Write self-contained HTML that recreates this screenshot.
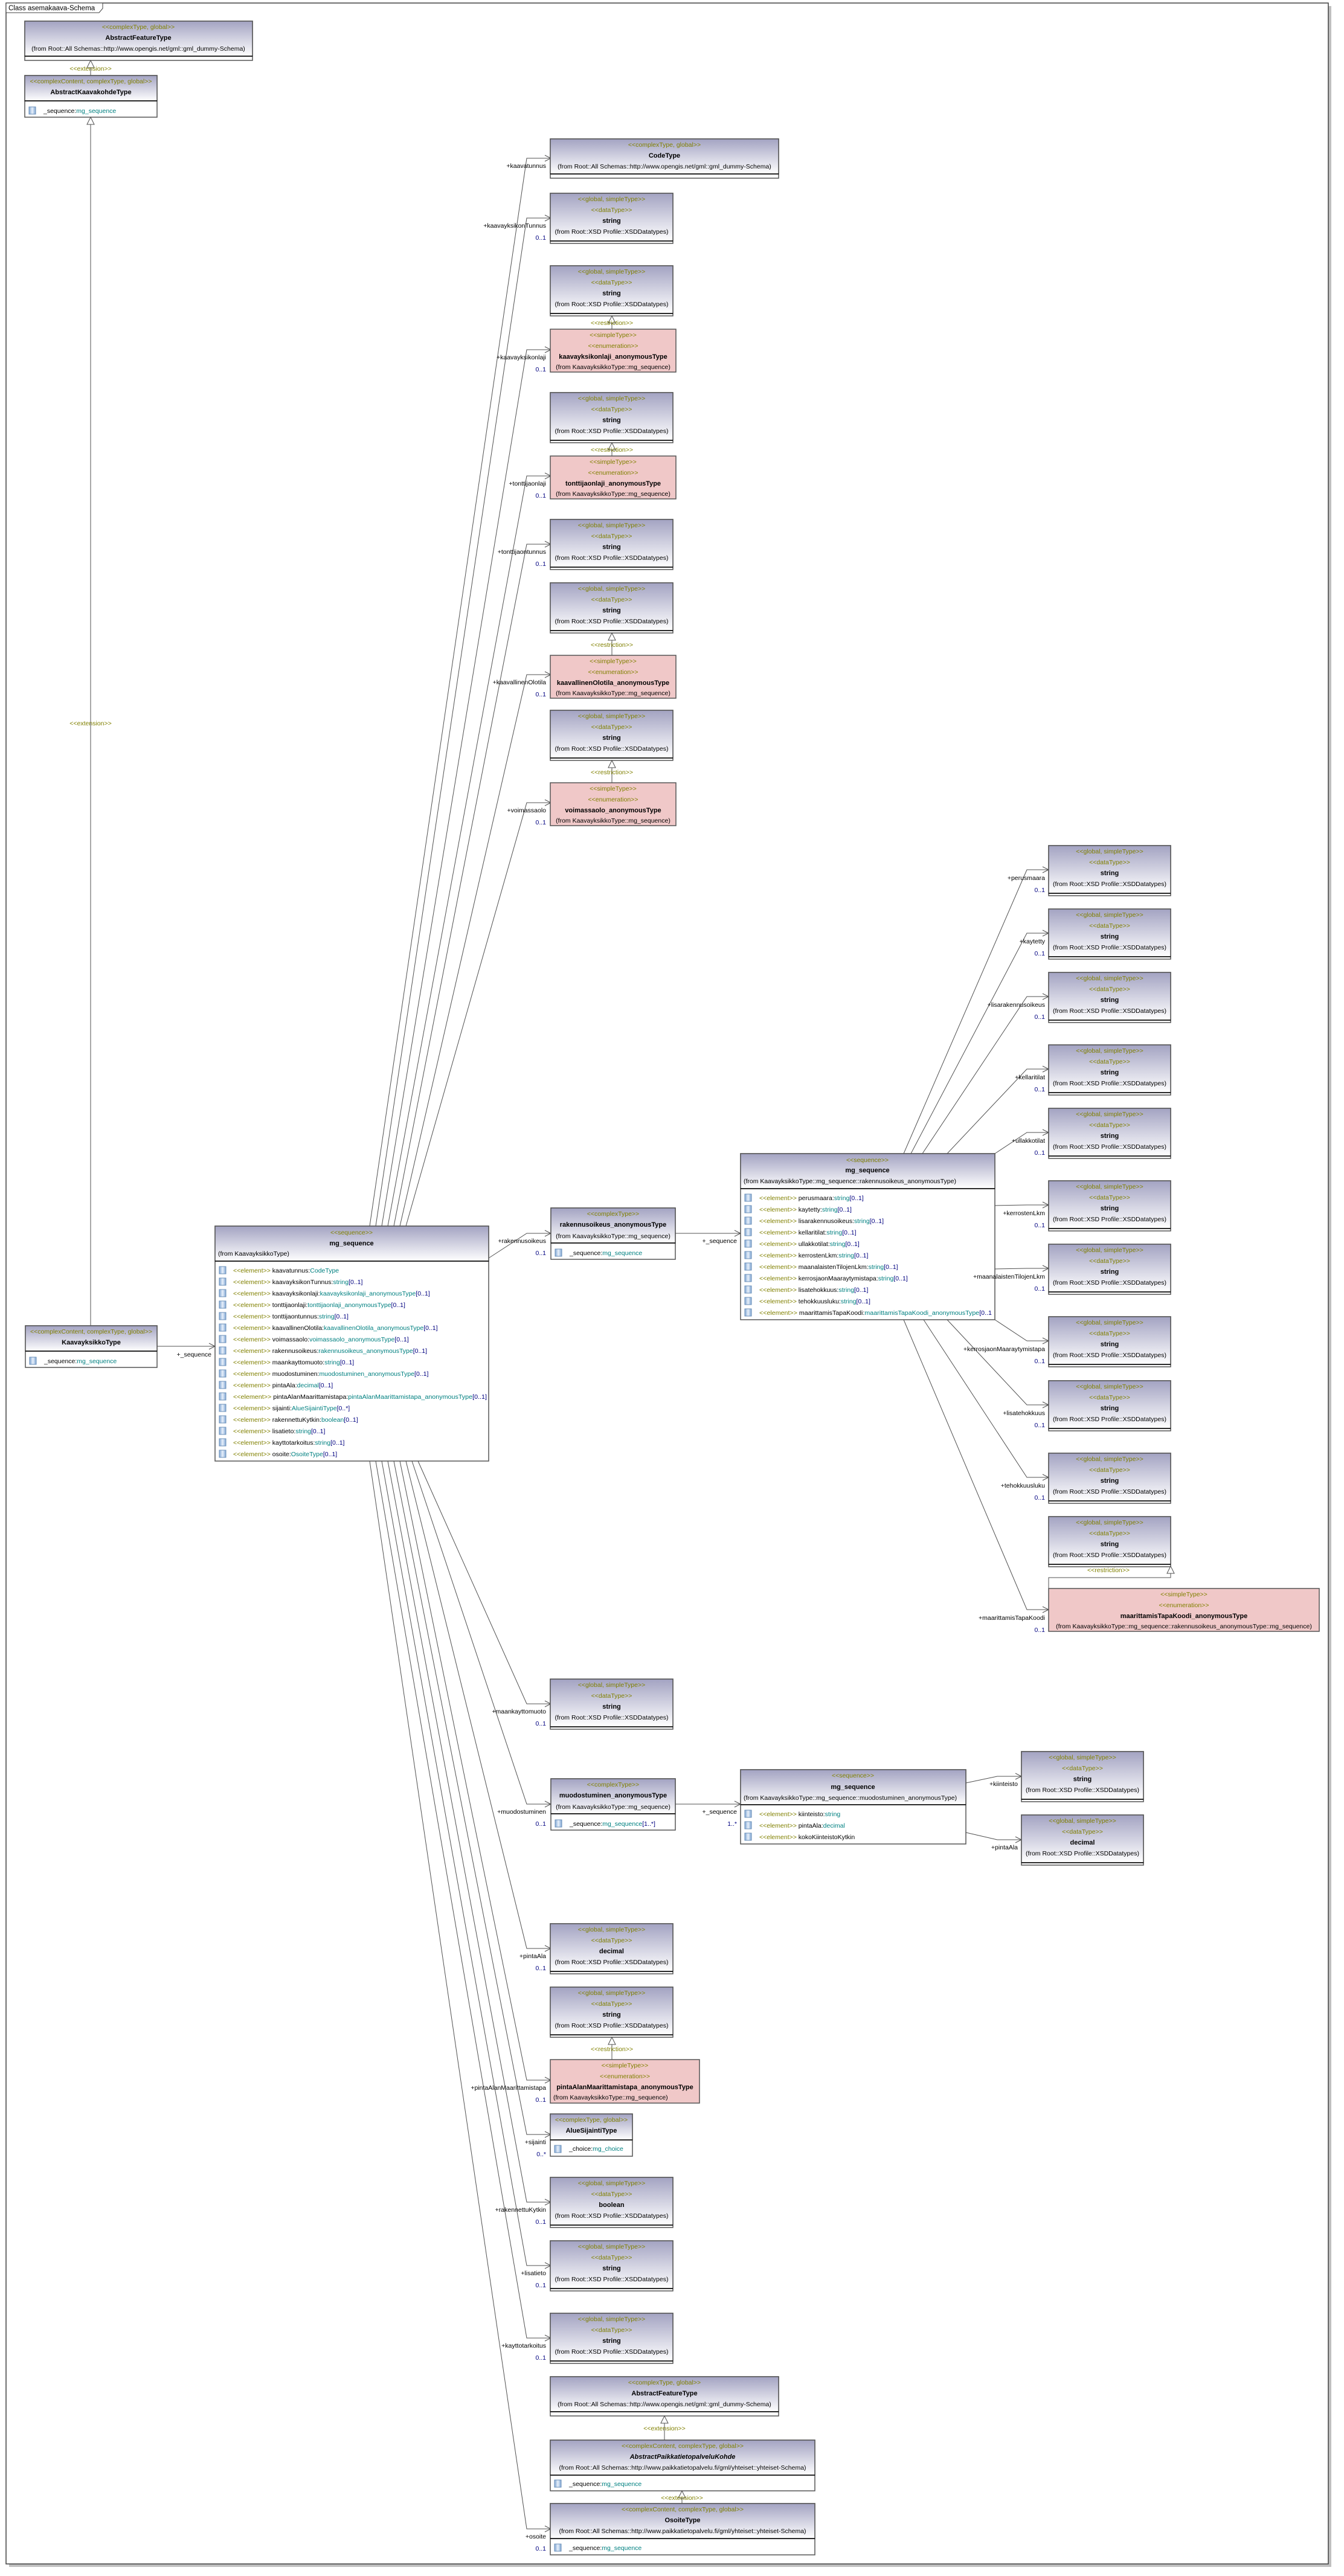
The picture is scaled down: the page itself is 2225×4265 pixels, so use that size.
<!DOCTYPE html>
<html><head><meta charset="utf-8"><style>
html,body{margin:0;padding:0;background:#fff;}
svg{display:block;}
text{font-family:"Liberation Sans",Arial,sans-serif;font-size:10.5px;fill:#000;}
.s{fill:#808000;text-anchor:middle;}
.n{font-weight:bold;text-anchor:middle;font-size:11px;}
.c{text-anchor:middle;}
.r{text-anchor:end;}
.b{fill:#fff;stroke:#555;stroke-width:1.5;}
.h{fill:url(#g);stroke:#555;stroke-width:1.5;}
.p{fill:#f0c8c8;stroke:#555;stroke-width:1.5;}
.d{stroke:#000;stroke-width:1.5;}
.l{stroke:#505050;stroke-width:1;fill:none;}
.tl{fill:#008080;}
.ol{fill:#808000;}
.mu{fill:#000080;}
.ic{fill:url(#ic);stroke:#6a8fb8;}
</style></head><body>
<svg width="2225" height="4265" viewBox="0 0 2225 4265" xmlns="http://www.w3.org/2000/svg">
<defs>
<linearGradient id="g" x1="0" y1="0" x2="0" y2="1"><stop offset="0" stop-color="#a3a3c2"/><stop offset="1" stop-color="#ffffff"/></linearGradient>
<linearGradient id="ic" x1="0" y1="0" x2="1" y2="0"><stop offset="0" stop-color="#7fa6d4"/><stop offset="0.5" stop-color="#e8f0fa"/><stop offset="1" stop-color="#7fa6d4"/></linearGradient>
</defs>
<rect x="0" y="0" width="2225" height="4265" fill="#fff"/>
<!-- frame -->
<rect x="2199" y="10" width="5" height="4240" fill="#c0c0c0"/>
<rect x="15" y="4245" width="2189" height="5" fill="#c0c0c0"/>
<rect x="10" y="5" width="2189" height="4240" fill="none" stroke="#404040" stroke-width="1.5"/>
<polygon points="10,5 170,5 170,14 164,21 10,21" fill="#fff" stroke="#404040" stroke-width="1"/>
<text x="14" y="17" style="font-size:11.5px">Class asemakaava-Schema</text>

<!-- AbstractFeatureType top -->
<g transform="translate(41,35)"><rect width="377" height="65" class="b"/><rect width="377" height="58" class="h"/><line x1="0" y1="58" x2="377" y2="58" class="d"/>
<text x="188" y="13" class="s">&lt;&lt;complexType, global&gt;&gt;</text><text x="188" y="31" class="n">AbstractFeatureType</text><text x="188" y="49" class="c">(from Root::All Schemas::http://www.opengis.net/gml::gml_dummy-Schema)</text></g>
<!-- AbstractKaavakohdeType -->
<g transform="translate(41,125)"><rect width="219" height="69" class="b"/><rect width="219" height="42" class="h"/><line x1="0" y1="42" x2="219" y2="42" class="d"/>
<text x="109.5" y="13" class="s">&lt;&lt;complexContent, complexType, global&gt;&gt;</text><text x="109.5" y="31" class="n">AbstractKaavakohdeType</text>
<rect x="7" y="52" width="11" height="12" class="ic"/><text x="31" y="62">_sequence:<tspan class="tl">mg_sequence</tspan></text></g>
<line x1="150" y1="125" x2="150" y2="112" class="l"/><polygon points="150,100 144,112 156,112" fill="#fff" stroke="#505050"/>
<text x="150" y="117" class="s">&lt;&lt;extension&gt;&gt;</text>
<line x1="150" y1="2195" x2="150" y2="206" class="l"/><polygon points="150,194 144,206 156,206" fill="#fff" stroke="#505050"/>
<text x="150" y="1201" class="s">&lt;&lt;extension&gt;&gt;</text>

<!-- KaavayksikkoType -->
<g transform="translate(42,2195)"><rect width="218" height="69" class="b"/><rect width="218" height="42" class="h"/><line x1="0" y1="42" x2="218" y2="42" class="d"/>
<text x="109" y="13" class="s">&lt;&lt;complexContent, complexType, global&gt;&gt;</text><text x="109" y="31" class="n">KaavayksikkoType</text>
<rect x="7" y="52" width="11" height="12" class="ic"/><text x="31" y="62">_sequence:<tspan class="tl">mg_sequence</tspan></text></g>
<line x1="260" y1="2229" x2="356" y2="2229" class="l"/><polyline points="346,2224 356,2229 346,2234" class="l"/>
<text x="350" y="2246" class="r">+_sequence</text>

<!-- main mg_sequence -->
<g transform="translate(356,2030)"><rect width="453" height="389" class="b"/><rect width="453" height="58" class="h"/><line x1="0" y1="58" x2="453" y2="58" class="d"/>
<text x="226" y="14" class="s">&lt;&lt;sequence&gt;&gt;</text><text x="226" y="32" class="n">mg_sequence</text><text x="5" y="49">(from KaavayksikkoType)</text>
<g transform="translate(0,67)">
<rect x="7" y="0" width="11" height="12" class="ic"/><text x="30" y="10"><tspan class="ol">&lt;&lt;element&gt;&gt;</tspan> kaavatunnus:<tspan class="tl">CodeType</tspan></text>
<rect x="7" y="19" width="11" height="12" class="ic"/><text x="30" y="29"><tspan class="ol">&lt;&lt;element&gt;&gt;</tspan> kaavayksikonTunnus:<tspan class="tl">string</tspan><tspan class="mu">[0..1]</tspan></text>
<rect x="7" y="38" width="11" height="12" class="ic"/><text x="30" y="48"><tspan class="ol">&lt;&lt;element&gt;&gt;</tspan> kaavayksikonlaji:<tspan class="tl">kaavayksikonlaji_anonymousType</tspan><tspan class="mu">[0..1]</tspan></text>
<rect x="7" y="57" width="11" height="12" class="ic"/><text x="30" y="67"><tspan class="ol">&lt;&lt;element&gt;&gt;</tspan> tonttijaonlaji:<tspan class="tl">tonttijaonlaji_anonymousType</tspan><tspan class="mu">[0..1]</tspan></text>
<rect x="7" y="76" width="11" height="12" class="ic"/><text x="30" y="86"><tspan class="ol">&lt;&lt;element&gt;&gt;</tspan> tonttijaontunnus:<tspan class="tl">string</tspan><tspan class="mu">[0..1]</tspan></text>
<rect x="7" y="95" width="11" height="12" class="ic"/><text x="30" y="105"><tspan class="ol">&lt;&lt;element&gt;&gt;</tspan> kaavallinenOlotila:<tspan class="tl">kaavallinenOlotila_anonymousType</tspan><tspan class="mu">[0..1]</tspan></text>
<rect x="7" y="114" width="11" height="12" class="ic"/><text x="30" y="124"><tspan class="ol">&lt;&lt;element&gt;&gt;</tspan> voimassaolo:<tspan class="tl">voimassaolo_anonymousType</tspan><tspan class="mu">[0..1]</tspan></text>
<rect x="7" y="133" width="11" height="12" class="ic"/><text x="30" y="143"><tspan class="ol">&lt;&lt;element&gt;&gt;</tspan> rakennusoikeus:<tspan class="tl">rakennusoikeus_anonymousType</tspan><tspan class="mu">[0..1]</tspan></text>
<rect x="7" y="152" width="11" height="12" class="ic"/><text x="30" y="162"><tspan class="ol">&lt;&lt;element&gt;&gt;</tspan> maankayttomuoto:<tspan class="tl">string</tspan><tspan class="mu">[0..1]</tspan></text>
<rect x="7" y="171" width="11" height="12" class="ic"/><text x="30" y="181"><tspan class="ol">&lt;&lt;element&gt;&gt;</tspan> muodostuminen:<tspan class="tl">muodostuminen_anonymousType</tspan><tspan class="mu">[0..1]</tspan></text>
<rect x="7" y="190" width="11" height="12" class="ic"/><text x="30" y="200"><tspan class="ol">&lt;&lt;element&gt;&gt;</tspan> pintaAla:<tspan class="tl">decimal</tspan><tspan class="mu">[0..1]</tspan></text>
<rect x="7" y="209" width="11" height="12" class="ic"/><text x="30" y="219" textLength="420" lengthAdjust="spacingAndGlyphs"><tspan class="ol">&lt;&lt;element&gt;&gt;</tspan> pintaAlanMaarittamistapa:<tspan class="tl">pintaAlanMaarittamistapa_anonymousType</tspan><tspan class="mu">[0..1]</tspan></text>
<rect x="7" y="228" width="11" height="12" class="ic"/><text x="30" y="238"><tspan class="ol">&lt;&lt;element&gt;&gt;</tspan> sijainti:<tspan class="tl">AlueSijaintiType</tspan><tspan class="mu">[0..*]</tspan></text>
<rect x="7" y="247" width="11" height="12" class="ic"/><text x="30" y="257"><tspan class="ol">&lt;&lt;element&gt;&gt;</tspan> rakennettuKytkin:<tspan class="tl">boolean</tspan><tspan class="mu">[0..1]</tspan></text>
<rect x="7" y="266" width="11" height="12" class="ic"/><text x="30" y="276"><tspan class="ol">&lt;&lt;element&gt;&gt;</tspan> lisatieto:<tspan class="tl">string</tspan><tspan class="mu">[0..1]</tspan></text>
<rect x="7" y="285" width="11" height="12" class="ic"/><text x="30" y="295"><tspan class="ol">&lt;&lt;element&gt;&gt;</tspan> kayttotarkoitus:<tspan class="tl">string</tspan><tspan class="mu">[0..1]</tspan></text>
<rect x="7" y="304" width="11" height="12" class="ic"/><text x="30" y="314"><tspan class="ol">&lt;&lt;element&gt;&gt;</tspan> osoite:<tspan class="tl">OsoiteType</tspan><tspan class="mu">[0..1]</tspan></text>
</g></g>

<!-- left connectors -->
<g class="l">
<polyline points="612,2030 872,262 912,262"/><polyline points="902,257 912,262 902,267"/>
<polyline points="622,2030 872,361 912,361"/><polyline points="902,356 912,361 902,366"/>
<polyline points="632,2030 872,579 912,579"/><polyline points="902,574 912,579 902,584"/>
<polyline points="642,2030 872,788 912,788"/><polyline points="902,783 912,788 902,793"/>
<polyline points="652,2030 872,901 912,901"/><polyline points="902,896 912,901 902,906"/>
<polyline points="662,2030 872,1117 912,1117"/><polyline points="902,1112 912,1117 902,1122"/>
<polyline points="672,2030 872,1329 912,1329"/><polyline points="902,1324 912,1329 902,1334"/>
<polyline points="809,2083 872,2042 912,2042"/><polyline points="902,2037 912,2042 902,2047"/>
<polyline points="692,2419 872,2821 912,2821"/><polyline points="902,2816 912,2821 902,2826"/>
<polyline points="682,2419 872,2987 912,2987"/><polyline points="902,2982 912,2987 902,2992"/>
<polyline points="672,2419 872,3226 912,3226"/><polyline points="902,3221 912,3226 902,3231"/>
<polyline points="662,2419 872,3444 912,3444"/><polyline points="902,3439 912,3444 902,3449"/>
<polyline points="652,2419 872,3534 912,3534"/><polyline points="902,3529 912,3534 902,3539"/>
<polyline points="642,2419 872,3646 912,3646"/><polyline points="902,3641 912,3646 902,3651"/>
<polyline points="632,2419 872,3751 912,3751"/><polyline points="902,3746 912,3751 902,3756"/>
<polyline points="622,2419 872,3871 912,3871"/><polyline points="902,3866 912,3871 902,3876"/>
<polyline points="612,2419 872,4187 912,4187"/><polyline points="902,4182 912,4187 902,4192"/>
</g>
<text x="904" y="278" class="r">+kaavatunnus</text>
<text x="904" y="377" class="r">+kaavayksikonTunnus</text><text x="904" y="397" class="r mu">0..1</text>
<text x="904" y="595" class="r">+kaavayksikonlaji</text><text x="904" y="615" class="r mu">0..1</text>
<text x="904" y="804" class="r">+tonttijaonlaji</text><text x="904" y="824" class="r mu">0..1</text>
<text x="904" y="917" class="r">+tonttijaontunnus</text><text x="904" y="937" class="r mu">0..1</text>
<text x="904" y="1133" class="r">+kaavallinenOlotila</text><text x="904" y="1153" class="r mu">0..1</text>
<text x="904" y="1345" class="r">+voimassaolo</text><text x="904" y="1365" class="r mu">0..1</text>
<text x="904" y="2058" class="r">+rakennusoikeus</text><text x="904" y="2078" class="r mu">0..1</text>
<text x="904" y="2837" class="r">+maankayttomuoto</text><text x="904" y="2857" class="r mu">0..1</text>
<text x="904" y="3003" class="r">+muodostuminen</text><text x="904" y="3023" class="r mu">0..1</text>
<text x="904" y="3242" class="r">+pintaAla</text><text x="904" y="3262" class="r mu">0..1</text>
<text x="904" y="3460" class="r">+pintaAlanMaarittamistapa</text><text x="904" y="3480" class="r mu">0..1</text>
<text x="904" y="3550" class="r">+sijainti</text><text x="904" y="3570" class="r mu">0..*</text>
<text x="904" y="3662" class="r">+rakennettuKytkin</text><text x="904" y="3682" class="r mu">0..1</text>
<text x="904" y="3767" class="r">+lisatieto</text><text x="904" y="3787" class="r mu">0..1</text>
<text x="904" y="3887" class="r">+kayttotarkoitus</text><text x="904" y="3907" class="r mu">0..1</text>
<text x="904" y="4203" class="r">+osoite</text><text x="904" y="4223" class="r mu">0..1</text>

<!-- CodeType -->
<g transform="translate(911,230)"><rect width="378" height="65" class="b"/><rect width="378" height="58" class="h"/><line x1="0" y1="58" x2="378" y2="58" class="d"/>
<text x="189" y="13" class="s">&lt;&lt;complexType, global&gt;&gt;</text><text x="189" y="31" class="n">CodeType</text><text x="189" y="49" class="c">(from Root::All Schemas::http://www.opengis.net/gml::gml_dummy-Schema)</text></g>

<!-- left string boxes -->
<g transform="translate(911,320)"><rect width="203" height="83" class="b"/><rect width="203" height="79" class="h"/><line x1="0" y1="79" x2="203" y2="79" class="d"/><text x="101.5" y="13" class="s">&lt;&lt;global, simpleType&gt;&gt;</text><text x="101.5" y="31" class="s">&lt;&lt;dataType&gt;&gt;</text><text x="101.5" y="49" class="n">string</text><text x="101.5" y="67" class="c">(from Root::XSD Profile::XSDDatatypes)</text></g>
<g transform="translate(911,440)"><rect width="203" height="83" class="b"/><rect width="203" height="79" class="h"/><line x1="0" y1="79" x2="203" y2="79" class="d"/><text x="101.5" y="13" class="s">&lt;&lt;global, simpleType&gt;&gt;</text><text x="101.5" y="31" class="s">&lt;&lt;dataType&gt;&gt;</text><text x="101.5" y="49" class="n">string</text><text x="101.5" y="67" class="c">(from Root::XSD Profile::XSDDatatypes)</text></g>
<g transform="translate(911,650)"><rect width="203" height="83" class="b"/><rect width="203" height="79" class="h"/><line x1="0" y1="79" x2="203" y2="79" class="d"/><text x="101.5" y="13" class="s">&lt;&lt;global, simpleType&gt;&gt;</text><text x="101.5" y="31" class="s">&lt;&lt;dataType&gt;&gt;</text><text x="101.5" y="49" class="n">string</text><text x="101.5" y="67" class="c">(from Root::XSD Profile::XSDDatatypes)</text></g>
<g transform="translate(911,860)"><rect width="203" height="83" class="b"/><rect width="203" height="79" class="h"/><line x1="0" y1="79" x2="203" y2="79" class="d"/><text x="101.5" y="13" class="s">&lt;&lt;global, simpleType&gt;&gt;</text><text x="101.5" y="31" class="s">&lt;&lt;dataType&gt;&gt;</text><text x="101.5" y="49" class="n">string</text><text x="101.5" y="67" class="c">(from Root::XSD Profile::XSDDatatypes)</text></g>
<g transform="translate(911,965)"><rect width="203" height="83" class="b"/><rect width="203" height="79" class="h"/><line x1="0" y1="79" x2="203" y2="79" class="d"/><text x="101.5" y="13" class="s">&lt;&lt;global, simpleType&gt;&gt;</text><text x="101.5" y="31" class="s">&lt;&lt;dataType&gt;&gt;</text><text x="101.5" y="49" class="n">string</text><text x="101.5" y="67" class="c">(from Root::XSD Profile::XSDDatatypes)</text></g>
<g transform="translate(911,1176)"><rect width="203" height="83" class="b"/><rect width="203" height="79" class="h"/><line x1="0" y1="79" x2="203" y2="79" class="d"/><text x="101.5" y="13" class="s">&lt;&lt;global, simpleType&gt;&gt;</text><text x="101.5" y="31" class="s">&lt;&lt;dataType&gt;&gt;</text><text x="101.5" y="49" class="n">string</text><text x="101.5" y="67" class="c">(from Root::XSD Profile::XSDDatatypes)</text></g>
<g transform="translate(911,2780)"><rect width="203" height="83" class="b"/><rect width="203" height="79" class="h"/><line x1="0" y1="79" x2="203" y2="79" class="d"/><text x="101.5" y="13" class="s">&lt;&lt;global, simpleType&gt;&gt;</text><text x="101.5" y="31" class="s">&lt;&lt;dataType&gt;&gt;</text><text x="101.5" y="49" class="n">string</text><text x="101.5" y="67" class="c">(from Root::XSD Profile::XSDDatatypes)</text></g>
<g transform="translate(911,3185)"><rect width="203" height="83" class="b"/><rect width="203" height="79" class="h"/><line x1="0" y1="79" x2="203" y2="79" class="d"/><text x="101.5" y="13" class="s">&lt;&lt;global, simpleType&gt;&gt;</text><text x="101.5" y="31" class="s">&lt;&lt;dataType&gt;&gt;</text><text x="101.5" y="49" class="n">decimal</text><text x="101.5" y="67" class="c">(from Root::XSD Profile::XSDDatatypes)</text></g>
<g transform="translate(911,3290)"><rect width="203" height="83" class="b"/><rect width="203" height="79" class="h"/><line x1="0" y1="79" x2="203" y2="79" class="d"/><text x="101.5" y="13" class="s">&lt;&lt;global, simpleType&gt;&gt;</text><text x="101.5" y="31" class="s">&lt;&lt;dataType&gt;&gt;</text><text x="101.5" y="49" class="n">string</text><text x="101.5" y="67" class="c">(from Root::XSD Profile::XSDDatatypes)</text></g>
<g transform="translate(911,3605)"><rect width="203" height="83" class="b"/><rect width="203" height="79" class="h"/><line x1="0" y1="79" x2="203" y2="79" class="d"/><text x="101.5" y="13" class="s">&lt;&lt;global, simpleType&gt;&gt;</text><text x="101.5" y="31" class="s">&lt;&lt;dataType&gt;&gt;</text><text x="101.5" y="49" class="n">boolean</text><text x="101.5" y="67" class="c">(from Root::XSD Profile::XSDDatatypes)</text></g>
<g transform="translate(911,3710)"><rect width="203" height="83" class="b"/><rect width="203" height="79" class="h"/><line x1="0" y1="79" x2="203" y2="79" class="d"/><text x="101.5" y="13" class="s">&lt;&lt;global, simpleType&gt;&gt;</text><text x="101.5" y="31" class="s">&lt;&lt;dataType&gt;&gt;</text><text x="101.5" y="49" class="n">string</text><text x="101.5" y="67" class="c">(from Root::XSD Profile::XSDDatatypes)</text></g>
<g transform="translate(911,3830)"><rect width="203" height="83" class="b"/><rect width="203" height="79" class="h"/><line x1="0" y1="79" x2="203" y2="79" class="d"/><text x="101.5" y="13" class="s">&lt;&lt;global, simpleType&gt;&gt;</text><text x="101.5" y="31" class="s">&lt;&lt;dataType&gt;&gt;</text><text x="101.5" y="49" class="n">string</text><text x="101.5" y="67" class="c">(from Root::XSD Profile::XSDDatatypes)</text></g>

<!-- pink boxes left -->
<g transform="translate(911,545)"><rect width="208" height="71" class="p"/><text x="104" y="13" class="s">&lt;&lt;simpleType&gt;&gt;</text><text x="104" y="31" class="s">&lt;&lt;enumeration&gt;&gt;</text><text x="104" y="49" class="n">kaavayksikonlaji_anonymousType</text><text x="104" y="66" class="c">(from KaavayksikkoType::mg_sequence)</text></g>
<g transform="translate(911,755)"><rect width="208" height="71" class="p"/><text x="104" y="13" class="s">&lt;&lt;simpleType&gt;&gt;</text><text x="104" y="31" class="s">&lt;&lt;enumeration&gt;&gt;</text><text x="104" y="49" class="n">tonttijaonlaji_anonymousType</text><text x="104" y="66" class="c">(from KaavayksikkoType::mg_sequence)</text></g>
<g transform="translate(911,1085)"><rect width="208" height="71" class="p"/><text x="104" y="13" class="s">&lt;&lt;simpleType&gt;&gt;</text><text x="104" y="31" class="s">&lt;&lt;enumeration&gt;&gt;</text><text x="104" y="49" class="n">kaavallinenOlotila_anonymousType</text><text x="104" y="66" class="c">(from KaavayksikkoType::mg_sequence)</text></g>
<g transform="translate(911,1296)"><rect width="208" height="71" class="p"/><text x="104" y="13" class="s">&lt;&lt;simpleType&gt;&gt;</text><text x="104" y="31" class="s">&lt;&lt;enumeration&gt;&gt;</text><text x="104" y="49" class="n">voimassaolo_anonymousType</text><text x="104" y="66" class="c">(from KaavayksikkoType::mg_sequence)</text></g>
<g transform="translate(911,3410)"><rect width="247" height="72" class="p"/><text x="123.5" y="13" class="s">&lt;&lt;simpleType&gt;&gt;</text><text x="123.5" y="31" class="s">&lt;&lt;enumeration&gt;&gt;</text><text x="123.5" y="49" class="n">pintaAlanMaarittamistapa_anonymousType</text><text x="5" y="66">(from KaavayksikkoType::mg_sequence)</text></g>

<!-- restrictions left -->
<g class="l"><line x1="1013" y1="545" x2="1013" y2="535"/><line x1="1013" y1="755" x2="1013" y2="745"/><line x1="1013" y1="1085" x2="1013" y2="1060"/><line x1="1013" y1="1296" x2="1013" y2="1271"/><line x1="1013" y1="3410" x2="1013" y2="3385"/></g>
<polygon points="1013,523 1007,535 1019,535" fill="#fff" stroke="#505050"/>
<polygon points="1013,733 1007,745 1019,745" fill="#fff" stroke="#505050"/>
<polygon points="1013,1048 1007,1060 1019,1060" fill="#fff" stroke="#505050"/>
<polygon points="1013,1259 1007,1271 1019,1271" fill="#fff" stroke="#505050"/>
<polygon points="1013,3373 1007,3385 1019,3385" fill="#fff" stroke="#505050"/>
<text x="1013" y="538" class="s">&lt;&lt;restriction&gt;&gt;</text>
<text x="1013" y="748" class="s">&lt;&lt;restriction&gt;&gt;</text>
<text x="1013" y="1071" class="s">&lt;&lt;restriction&gt;&gt;</text>
<text x="1013" y="1282" class="s">&lt;&lt;restriction&gt;&gt;</text>
<text x="1013" y="3396" class="s">&lt;&lt;restriction&gt;&gt;</text>

<!-- rakennusoikeus_anonymousType -->
<g transform="translate(912,2000)"><rect width="206" height="85" class="b"/><rect width="206" height="58" class="h"/><line x1="0" y1="58" x2="206" y2="58" class="d"/>
<text x="103" y="13" class="s">&lt;&lt;complexType&gt;&gt;</text><text x="103" y="31" class="n">rakennusoikeus_anonymousType</text><text x="103" y="50" class="c">(from KaavayksikkoType::mg_sequence)</text>
<rect x="7" y="68" width="11" height="12" class="ic"/><text x="31" y="78">_sequence:<tspan class="tl">mg_sequence</tspan></text></g>
<line x1="1118" y1="2042" x2="1226" y2="2042" class="l"/><polyline points="1216,2037 1226,2042 1216,2047" class="l"/>
<text x="1220" y="2058" class="r">+_sequence</text>

<!-- muodostuminen_anonymousType -->
<g transform="translate(912,2945)"><rect width="206" height="85" class="b"/><rect width="206" height="58" class="h"/><line x1="0" y1="58" x2="206" y2="58" class="d"/>
<text x="103" y="13" class="s">&lt;&lt;complexType&gt;&gt;</text><text x="103" y="31" class="n">muodostuminen_anonymousType</text><text x="103" y="50" class="c">(from KaavayksikkoType::mg_sequence)</text>
<rect x="7" y="68" width="11" height="12" class="ic"/><text x="31" y="78">_sequence:<tspan class="tl">mg_sequence</tspan><tspan class="mu">[1..*]</tspan></text></g>
<line x1="1118" y1="2987" x2="1226" y2="2987" class="l"/><polyline points="1216,2982 1226,2987 1216,2992" class="l"/>
<text x="1220" y="3003" class="r">+_sequence</text><text x="1220" y="3023" class="r mu">1..*</text>

<!-- AlueSijaintiType -->
<g transform="translate(911,3500)"><rect width="136" height="70" class="b"/><rect width="136" height="43" class="h"/><line x1="0" y1="43" x2="136" y2="43" class="d"/>
<text x="68" y="13" class="s">&lt;&lt;complexType, global&gt;&gt;</text><text x="68" y="31" class="n">AlueSijaintiType</text>
<rect x="7" y="52" width="11" height="12" class="ic"/><text x="31" y="61">_choice:<tspan class="tl">mg_choice</tspan></text></g>

<!-- AbstractFeatureType bottom -->
<g transform="translate(911,3935)"><rect width="378" height="65" class="b"/><rect width="378" height="58" class="h"/><line x1="0" y1="58" x2="378" y2="58" class="d"/>
<text x="189" y="13" class="s">&lt;&lt;complexType, global&gt;&gt;</text><text x="189" y="31" class="n">AbstractFeatureType</text><text x="189" y="49" class="c">(from Root::All Schemas::http://www.opengis.net/gml::gml_dummy-Schema)</text></g>
<line x1="1100" y1="4040" x2="1100" y2="4012" class="l"/><polygon points="1100,4000 1094,4012 1106,4012" fill="#fff" stroke="#505050"/>
<text x="1100" y="4024" class="s">&lt;&lt;extension&gt;&gt;</text>
<!-- AbstractPaikkatietopalveluKohde -->
<g transform="translate(911,4040)"><rect width="438" height="84" class="b"/><rect width="438" height="58" class="h"/><line x1="0" y1="58" x2="438" y2="58" class="d"/>
<text x="219" y="13" class="s">&lt;&lt;complexContent, complexType, global&gt;&gt;</text><text x="219" y="31" class="n" style="font-style:italic">AbstractPaikkatietopalveluKohde</text><text x="219" y="49" class="c">(from Root::All Schemas::http://www.paikkatietopalvelu.fi/gml/yhteiset::yhteiset-Schema)</text>
<rect x="7" y="66" width="11" height="12" class="ic"/><text x="31" y="76">_sequence:<tspan class="tl">mg_sequence</tspan></text></g>
<line x1="1129" y1="4145" x2="1129" y2="4136" class="l"/><polygon points="1129,4124 1123,4136 1135,4136" fill="#fff" stroke="#505050"/>
<text x="1129" y="4139" class="s">&lt;&lt;extension&gt;&gt;</text>
<!-- OsoiteType -->
<g transform="translate(911,4145)"><rect width="438" height="85" class="b"/><rect width="438" height="58" class="h"/><line x1="0" y1="58" x2="438" y2="58" class="d"/>
<text x="219" y="13" class="s">&lt;&lt;complexContent, complexType, global&gt;&gt;</text><text x="219" y="31" class="n">OsoiteType</text><text x="219" y="49" class="c">(from Root::All Schemas::http://www.paikkatietopalvelu.fi/gml/yhteiset::yhteiset-Schema)</text>
<rect x="7" y="67" width="11" height="12" class="ic"/><text x="31" y="77">_sequence:<tspan class="tl">mg_sequence</tspan></text></g>

<!-- inner mg_sequence (rakennusoikeus) -->
<g transform="translate(1226,1910)"><rect width="421" height="275" class="b"/><rect width="421" height="58" class="h"/><line x1="0" y1="58" x2="421" y2="58" class="d"/>
<text x="210" y="14" class="s">&lt;&lt;sequence&gt;&gt;</text><text x="210" y="31" class="n">mg_sequence</text><text x="5" y="49">(from KaavayksikkoType::mg_sequence::rakennusoikeus_anonymousType)</text>
<g transform="translate(0,67)">
<rect x="7" y="0" width="11" height="12" class="ic"/><text x="31" y="10"><tspan class="ol">&lt;&lt;element&gt;&gt;</tspan> perusmaara:<tspan class="tl">string</tspan><tspan class="mu">[0..1]</tspan></text>
<rect x="7" y="19" width="11" height="12" class="ic"/><text x="31" y="29"><tspan class="ol">&lt;&lt;element&gt;&gt;</tspan> kaytetty:<tspan class="tl">string</tspan><tspan class="mu">[0..1]</tspan></text>
<rect x="7" y="38" width="11" height="12" class="ic"/><text x="31" y="48"><tspan class="ol">&lt;&lt;element&gt;&gt;</tspan> lisarakennusoikeus:<tspan class="tl">string</tspan><tspan class="mu">[0..1]</tspan></text>
<rect x="7" y="57" width="11" height="12" class="ic"/><text x="31" y="67"><tspan class="ol">&lt;&lt;element&gt;&gt;</tspan> kellaritilat:<tspan class="tl">string</tspan><tspan class="mu">[0..1]</tspan></text>
<rect x="7" y="76" width="11" height="12" class="ic"/><text x="31" y="86"><tspan class="ol">&lt;&lt;element&gt;&gt;</tspan> ullakkotilat:<tspan class="tl">string</tspan><tspan class="mu">[0..1]</tspan></text>
<rect x="7" y="95" width="11" height="12" class="ic"/><text x="31" y="105"><tspan class="ol">&lt;&lt;element&gt;&gt;</tspan> kerrostenLkm:<tspan class="tl">string</tspan><tspan class="mu">[0..1]</tspan></text>
<rect x="7" y="114" width="11" height="12" class="ic"/><text x="31" y="124"><tspan class="ol">&lt;&lt;element&gt;&gt;</tspan> maanalaistenTilojenLkm:<tspan class="tl">string</tspan><tspan class="mu">[0..1]</tspan></text>
<rect x="7" y="133" width="11" height="12" class="ic"/><text x="31" y="143"><tspan class="ol">&lt;&lt;element&gt;&gt;</tspan> kerrosjaonMaaraytymistapa:<tspan class="tl">string</tspan><tspan class="mu">[0..1]</tspan></text>
<rect x="7" y="152" width="11" height="12" class="ic"/><text x="31" y="162"><tspan class="ol">&lt;&lt;element&gt;&gt;</tspan> lisatehokkuus:<tspan class="tl">string</tspan><tspan class="mu">[0..1]</tspan></text>
<rect x="7" y="171" width="11" height="12" class="ic"/><text x="31" y="181"><tspan class="ol">&lt;&lt;element&gt;&gt;</tspan> tehokkuusluku:<tspan class="tl">string</tspan><tspan class="mu">[0..1]</tspan></text>
<rect x="7" y="190" width="11" height="12" class="ic"/><text x="31" y="200" textLength="385" lengthAdjust="spacingAndGlyphs"><tspan class="ol">&lt;&lt;element&gt;&gt;</tspan> maarittamisTapaKoodi:<tspan class="tl">maarittamisTapaKoodi_anonymousType</tspan><tspan class="mu">[0..1</tspan></text>
</g></g>

<!-- right connectors -->
<g class="l">
<polyline points="1496,1910 1700,1440 1736,1440"/><polyline points="1726,1435 1736,1440 1726,1445"/>
<polyline points="1508,1910 1700,1545 1736,1545"/><polyline points="1726,1540 1736,1545 1726,1550"/>
<polyline points="1527,1910 1700,1650 1736,1650"/><polyline points="1726,1645 1736,1650 1726,1655"/>
<polyline points="1568,1910 1700,1770 1736,1770"/><polyline points="1726,1765 1736,1770 1726,1775"/>
<polyline points="1647,1910 1700,1875 1736,1875"/><polyline points="1726,1870 1736,1875 1726,1880"/>
<polyline points="1647,1996 1700,1995 1736,1995"/><polyline points="1726,1990 1736,1995 1726,2000"/>
<polyline points="1647,2101 1700,2100 1736,2100"/><polyline points="1726,2095 1736,2100 1726,2105"/>
<polyline points="1647,2185 1700,2220 1736,2220"/><polyline points="1726,2215 1736,2220 1726,2225"/>
<polyline points="1568,2185 1700,2326 1736,2326"/><polyline points="1726,2321 1736,2326 1726,2331"/>
<polyline points="1529,2185 1700,2446 1736,2446"/><polyline points="1726,2441 1736,2446 1726,2451"/>
<polyline points="1496,2185 1700,2665 1736,2665"/><polyline points="1726,2660 1736,2665 1726,2670"/>
</g>
<text x="1730" y="1457" class="r">+perusmaara</text><text x="1730" y="1477" class="r mu">0..1</text>
<text x="1730" y="1562" class="r">+kaytetty</text><text x="1730" y="1582" class="r mu">0..1</text>
<text x="1730" y="1667" class="r">+lisarakennusoikeus</text><text x="1730" y="1687" class="r mu">0..1</text>
<text x="1730" y="1787" class="r">+kellaritilat</text><text x="1730" y="1807" class="r mu">0..1</text>
<text x="1730" y="1892" class="r">+ullakkotilat</text><text x="1730" y="1912" class="r mu">0..1</text>
<text x="1730" y="2012" class="r">+kerrostenLkm</text><text x="1730" y="2032" class="r mu">0..1</text>
<text x="1730" y="2117" class="r">+maanalaistenTilojenLkm</text><text x="1730" y="2137" class="r mu">0..1</text>
<text x="1730" y="2237" class="r">+kerrosjaonMaaraytymistapa</text><text x="1730" y="2257" class="r mu">0..1</text>
<text x="1730" y="2343" class="r">+lisatehokkuus</text><text x="1730" y="2363" class="r mu">0..1</text>
<text x="1730" y="2463" class="r">+tehokkuusluku</text><text x="1730" y="2483" class="r mu">0..1</text>
<text x="1730" y="2682" class="r">+maarittamisTapaKoodi</text><text x="1730" y="2702" class="r mu">0..1</text>

<!-- right string boxes -->
<g transform="translate(1736,1400)"><rect width="202" height="83" class="b"/><rect width="202" height="79" class="h"/><line x1="0" y1="79" x2="202" y2="79" class="d"/><text x="101" y="13" class="s">&lt;&lt;global, simpleType&gt;&gt;</text><text x="101" y="31" class="s">&lt;&lt;dataType&gt;&gt;</text><text x="101" y="49" class="n">string</text><text x="101" y="67" class="c">(from Root::XSD Profile::XSDDatatypes)</text></g>
<g transform="translate(1736,1505)"><rect width="202" height="83" class="b"/><rect width="202" height="79" class="h"/><line x1="0" y1="79" x2="202" y2="79" class="d"/><text x="101" y="13" class="s">&lt;&lt;global, simpleType&gt;&gt;</text><text x="101" y="31" class="s">&lt;&lt;dataType&gt;&gt;</text><text x="101" y="49" class="n">string</text><text x="101" y="67" class="c">(from Root::XSD Profile::XSDDatatypes)</text></g>
<g transform="translate(1736,1610)"><rect width="202" height="83" class="b"/><rect width="202" height="79" class="h"/><line x1="0" y1="79" x2="202" y2="79" class="d"/><text x="101" y="13" class="s">&lt;&lt;global, simpleType&gt;&gt;</text><text x="101" y="31" class="s">&lt;&lt;dataType&gt;&gt;</text><text x="101" y="49" class="n">string</text><text x="101" y="67" class="c">(from Root::XSD Profile::XSDDatatypes)</text></g>
<g transform="translate(1736,1730)"><rect width="202" height="83" class="b"/><rect width="202" height="79" class="h"/><line x1="0" y1="79" x2="202" y2="79" class="d"/><text x="101" y="13" class="s">&lt;&lt;global, simpleType&gt;&gt;</text><text x="101" y="31" class="s">&lt;&lt;dataType&gt;&gt;</text><text x="101" y="49" class="n">string</text><text x="101" y="67" class="c">(from Root::XSD Profile::XSDDatatypes)</text></g>
<g transform="translate(1736,1835)"><rect width="202" height="83" class="b"/><rect width="202" height="79" class="h"/><line x1="0" y1="79" x2="202" y2="79" class="d"/><text x="101" y="13" class="s">&lt;&lt;global, simpleType&gt;&gt;</text><text x="101" y="31" class="s">&lt;&lt;dataType&gt;&gt;</text><text x="101" y="49" class="n">string</text><text x="101" y="67" class="c">(from Root::XSD Profile::XSDDatatypes)</text></g>
<g transform="translate(1736,1955)"><rect width="202" height="83" class="b"/><rect width="202" height="79" class="h"/><line x1="0" y1="79" x2="202" y2="79" class="d"/><text x="101" y="13" class="s">&lt;&lt;global, simpleType&gt;&gt;</text><text x="101" y="31" class="s">&lt;&lt;dataType&gt;&gt;</text><text x="101" y="49" class="n">string</text><text x="101" y="67" class="c">(from Root::XSD Profile::XSDDatatypes)</text></g>
<g transform="translate(1736,2060)"><rect width="202" height="83" class="b"/><rect width="202" height="79" class="h"/><line x1="0" y1="79" x2="202" y2="79" class="d"/><text x="101" y="13" class="s">&lt;&lt;global, simpleType&gt;&gt;</text><text x="101" y="31" class="s">&lt;&lt;dataType&gt;&gt;</text><text x="101" y="49" class="n">string</text><text x="101" y="67" class="c">(from Root::XSD Profile::XSDDatatypes)</text></g>
<g transform="translate(1736,2180)"><rect width="202" height="83" class="b"/><rect width="202" height="79" class="h"/><line x1="0" y1="79" x2="202" y2="79" class="d"/><text x="101" y="13" class="s">&lt;&lt;global, simpleType&gt;&gt;</text><text x="101" y="31" class="s">&lt;&lt;dataType&gt;&gt;</text><text x="101" y="49" class="n">string</text><text x="101" y="67" class="c">(from Root::XSD Profile::XSDDatatypes)</text></g>
<g transform="translate(1736,2286)"><rect width="202" height="83" class="b"/><rect width="202" height="79" class="h"/><line x1="0" y1="79" x2="202" y2="79" class="d"/><text x="101" y="13" class="s">&lt;&lt;global, simpleType&gt;&gt;</text><text x="101" y="31" class="s">&lt;&lt;dataType&gt;&gt;</text><text x="101" y="49" class="n">string</text><text x="101" y="67" class="c">(from Root::XSD Profile::XSDDatatypes)</text></g>
<g transform="translate(1736,2406)"><rect width="202" height="83" class="b"/><rect width="202" height="79" class="h"/><line x1="0" y1="79" x2="202" y2="79" class="d"/><text x="101" y="13" class="s">&lt;&lt;global, simpleType&gt;&gt;</text><text x="101" y="31" class="s">&lt;&lt;dataType&gt;&gt;</text><text x="101" y="49" class="n">string</text><text x="101" y="67" class="c">(from Root::XSD Profile::XSDDatatypes)</text></g>
<g transform="translate(1736,2511)"><rect width="202" height="83" class="b"/><rect width="202" height="79" class="h"/><line x1="0" y1="79" x2="202" y2="79" class="d"/><text x="101" y="13" class="s">&lt;&lt;global, simpleType&gt;&gt;</text><text x="101" y="31" class="s">&lt;&lt;dataType&gt;&gt;</text><text x="101" y="49" class="n">string</text><text x="101" y="67" class="c">(from Root::XSD Profile::XSDDatatypes)</text></g>
<!-- restriction to maarittamis -->
<polyline points="1938,2605 1938,2612 1736,2612 1736,2630" class="l"/>
<polygon points="1938,2593 1932,2605 1944,2605" fill="#fff" stroke="#505050"/>
<text x="1835" y="2603" class="s">&lt;&lt;restriction&gt;&gt;</text>
<g transform="translate(1736,2630)"><rect width="448" height="71" class="p"/><text x="224" y="13" class="s">&lt;&lt;simpleType&gt;&gt;</text><text x="224" y="31" class="s">&lt;&lt;enumeration&gt;&gt;</text><text x="224" y="49" class="n">maarittamisTapaKoodi_anonymousType</text><text x="224" y="66" class="c">(from KaavayksikkoType::mg_sequence::rakennusoikeus_anonymousType::mg_sequence)</text></g>

<!-- mg_sequence (muodostuminen) -->
<g transform="translate(1226,2930)"><rect width="373" height="123" class="b"/><rect width="373" height="58" class="h"/><line x1="0" y1="58" x2="373" y2="58" class="d"/>
<text x="186" y="13" class="s">&lt;&lt;sequence&gt;&gt;</text><text x="186" y="32" class="n">mg_sequence</text><text x="5" y="50">(from KaavayksikkoType::mg_sequence::muodostuminen_anonymousType)</text>
<rect x="7" y="67" width="11" height="12" class="ic"/><text x="31" y="77"><tspan class="ol">&lt;&lt;element&gt;&gt;</tspan> kiinteisto:<tspan class="tl">string</tspan></text>
<rect x="7" y="86" width="11" height="12" class="ic"/><text x="31" y="96"><tspan class="ol">&lt;&lt;element&gt;&gt;</tspan> pintaAla:<tspan class="tl">decimal</tspan></text>
<rect x="7" y="105" width="11" height="12" class="ic"/><text x="31" y="115"><tspan class="ol">&lt;&lt;element&gt;&gt;</tspan> kokoKiinteistoKytkin</text></g>
<g class="l">
<polyline points="1599,2952 1651,2941 1691,2941"/><polyline points="1681,2936 1691,2941 1681,2946"/>
<polyline points="1599,3034 1651,3046 1691,3046"/><polyline points="1681,3041 1691,3046 1681,3051"/>
</g>
<text x="1685" y="2957" class="r">+kiinteisto</text>
<text x="1685" y="3062" class="r">+pintaAla</text>
<g transform="translate(1691,2900)"><rect width="202" height="83" class="b"/><rect width="202" height="79" class="h"/><line x1="0" y1="79" x2="202" y2="79" class="d"/><text x="101" y="13" class="s">&lt;&lt;global, simpleType&gt;&gt;</text><text x="101" y="31" class="s">&lt;&lt;dataType&gt;&gt;</text><text x="101" y="49" class="n">string</text><text x="101" y="67" class="c">(from Root::XSD Profile::XSDDatatypes)</text></g>
<g transform="translate(1691,3005)"><rect width="202" height="83" class="b"/><rect width="202" height="79" class="h"/><line x1="0" y1="79" x2="202" y2="79" class="d"/><text x="101" y="13" class="s">&lt;&lt;global, simpleType&gt;&gt;</text><text x="101" y="31" class="s">&lt;&lt;dataType&gt;&gt;</text><text x="101" y="49" class="n">decimal</text><text x="101" y="67" class="c">(from Root::XSD Profile::XSDDatatypes)</text></g>
</svg>
</body></html>
